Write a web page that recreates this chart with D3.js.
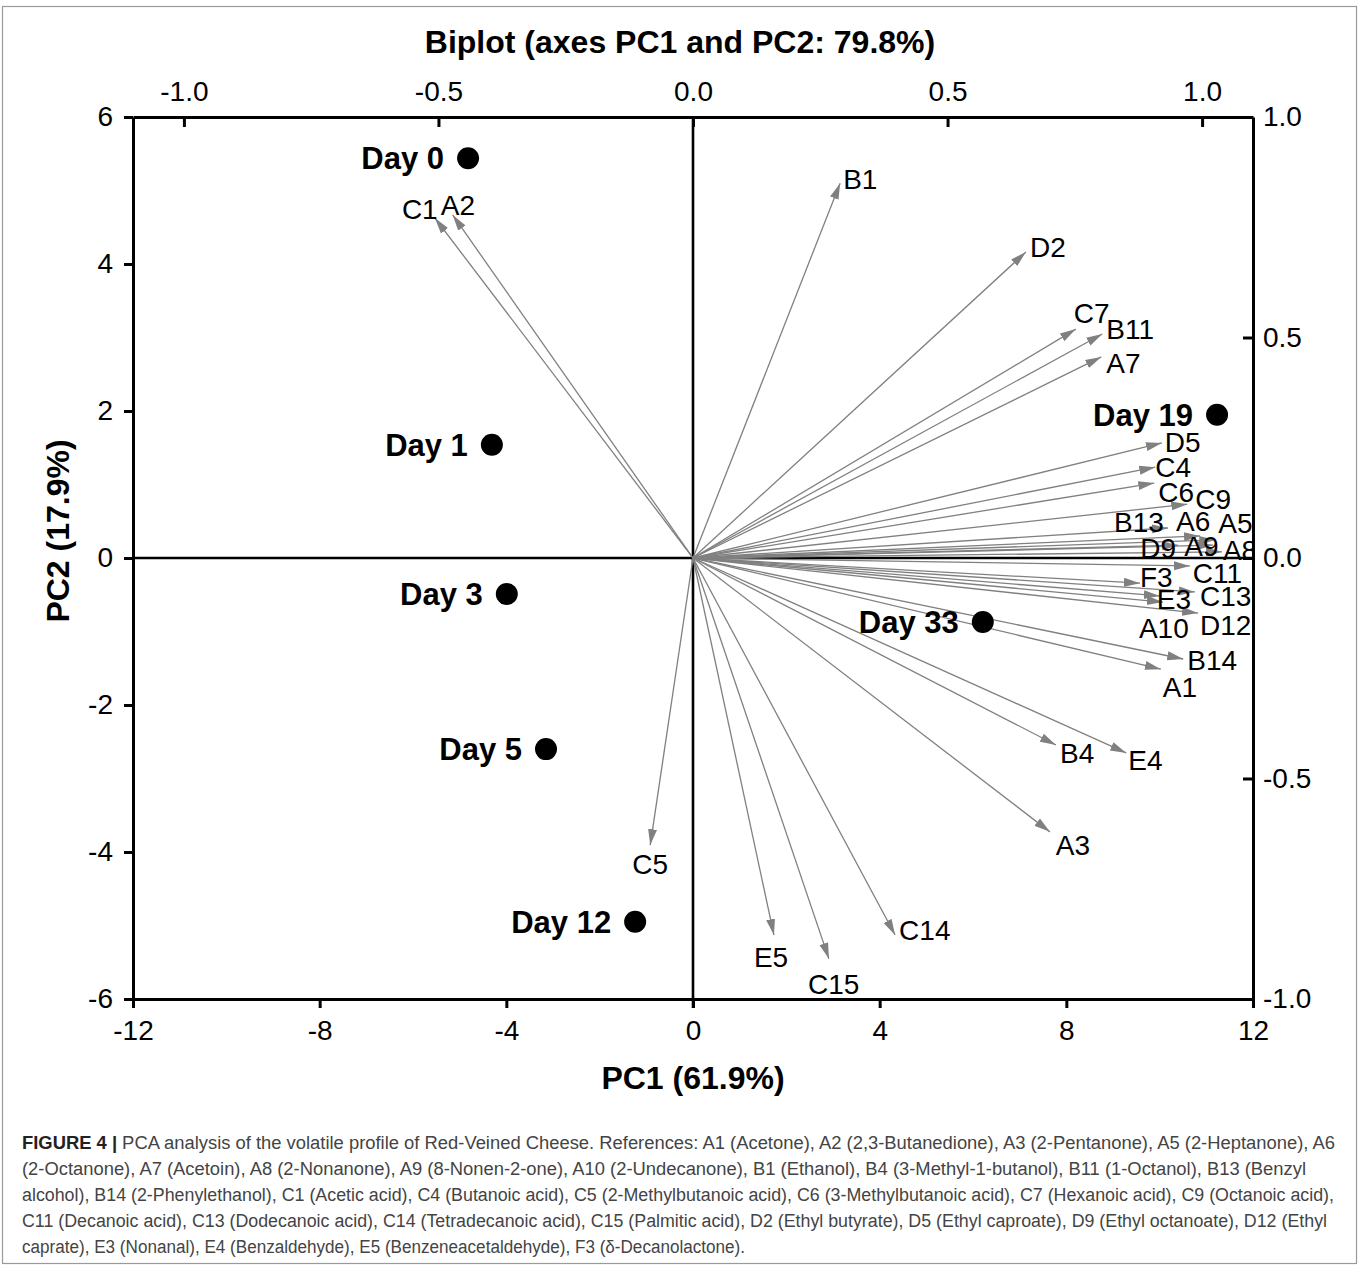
<!DOCTYPE html>
<html>
<head>
<meta charset="utf-8">
<script src="https://cdn.jsdelivr.net/npm/d3@7"></script>
<style>
  body { margin: 0; background: #fff; }
  svg { display: block; }
</style>
</head>
<body>
<svg id="chart" width="1360" height="1266"></svg>
<script>
// observations (sample scores)
const days = ['Day 0', 'Day 1', 'Day 3', 'Day 5', 'Day 12', 'Day 19', 'Day 33']
const dayPC1 = [-4.82, -4.31, -3.99, -3.15, -1.24, 11.23, 6.21]
const dayPC2 = [5.44, 1.54, -0.49, -2.60, -4.95, 1.95, -0.87]

// variables (loadings, on top/right axes)
const variables = ['A1', 'A2', 'A3', 'A5', 'A6', 'A7', 'A8', 'A9', 'A10',
  'B1', 'B4', 'B11', 'B13', 'B14',
  'C1', 'C4', 'C5', 'C6', 'C7', 'C9', 'C11', 'C13', 'C14', 'C15',
  'D2', 'D5', 'D9', 'D12', 'E3', 'E4', 'E5', 'F3']
const loadF1 = [0.919, -0.472, 0.701, 1.026, 0.996, 0.802, 1.039, 1.022, 0.923,
  0.289, 0.713, 0.804, 0.933, 0.963,
  -0.507, 0.908, -0.084, 0.906, 0.752, 0.971, 0.976, 0.986, 0.397, 0.267,
  0.654, 0.921, 0.953, 0.992, 0.917, 0.851, 0.159, 0.878]
const loadF2 = [-0.252, 0.778, -0.621, 0.041, 0.050, 0.456, 0.014, 0.029, -0.100,
  0.850, -0.424, 0.508, 0.068, -0.229,
  0.771, 0.206, -0.651, 0.170, 0.519, 0.122, -0.018, -0.077, -0.855, -0.909,
  0.694, 0.261, 0.029, -0.125, -0.086, -0.442, -0.855, -0.057]

const scoreTicksX = [-12, -8, -4, 0, 4, 8, 12]
const scoreTicksY = [-6, -4, -2, 0, 2, 4, 6]
const loadTicksX = [-1.0, -0.5, 0.0, 0.5, 1.0]
const loadTicksY = [-1.0, -0.5, 0.0, 0.5, 1.0]

const captionLines = [
  [['FIGURE 4 | ', true], ['PCA analysis of the volatile profile of Red-Veined Cheese. References: A1 (Acetone), A2 (2,3-Butanedione), A3 (2-Pentanone), A5 (2-Heptanone), A6', false]],
  [['(2-Octanone), A7 (Acetoin), A8 (2-Nonanone), A9 (8-Nonen-2-one), A10 (2-Undecanone), B1 (Ethanol), B4 (3-Methyl-1-butanol), B11 (1-Octanol), B13 (Benzyl', false]],
  [['alcohol), B14 (2-Phenylethanol), C1 (Acetic acid), C4 (Butanoic acid), C5 (2-Methylbutanoic acid), C6 (3-Methylbutanoic acid), C7 (Hexanoic acid), C9 (Octanoic acid),', false]],
  [['C11 (Decanoic acid), C13 (Dodecanoic acid), C14 (Tetradecanoic acid), C15 (Palmitic acid), D2 (Ethyl butyrate), D5 (Ethyl caproate), D9 (Ethyl octanoate), D12 (Ethyl', false]],
  [['caprate), E3 (Nonanal), E4 (Benzaldehyde), E5 (Benzeneacetaldehyde), F3 (\u03b4-Decanolactone).', false]]
]

// label placement relative to arrow tip: [dx, dy] in px
const labelNudge = {
  A1: [2, 28], A2: [-12, 0], A3: [6, 23], A5: [3, -7], A6: [-24, -5], A7: [5, 16],
  A8: [1, 8], A9: [-29, 11], A10: [-24, 36], B1: [3, 6], B4: [4, 18], B11: [4, 5],
  B13: [-54, 4], B14: [4, 11], C1: [-33, 1], C4: [0, 10], C5: [-18, 29], C6: [4, 19],
  C7: [-2, -6], C9: [8, 5], C11: [3, 17], C13: [5, 14], C14: [4, 5], C15: [-21, 35],
  D2: [4, 5], D5: [3, 9], D9: [-38, 13], D12: [2, 22], E3: [-3, 13], E4: [2, 17],
  E5: [-20, 32], F3: [0, 4]
}

const svg = d3.select('#chart')
const L = 133, R = 1253, T = 117, B = 999
const sans = 'Liberation Sans, Arial, sans-serif'

const x = d3.scaleLinear().domain([-12, 12]).range([L, R])
const y = d3.scaleLinear().domain([-6, 6]).range([B, T])
const xl = d3.scaleLinear().domain([-1.1, 1.1]).range([L, R])
const yl = d3.scaleLinear().domain([-1, 1]).range([B, T])

// outer figure frame
svg.append('rect')
  .attr('x', 2.5).attr('y', 6.5).attr('width', 1354).attr('height', 1257)
  .attr('fill', 'none').attr('stroke', '#9a9a9a').attr('stroke-width', 1.2)

svg.append('defs').append('clipPath').attr('id', 'plotClip')
  .append('rect').attr('x', L).attr('y', T).attr('width', R - L).attr('height', B - T)

svg.select('defs').append('marker')
  .attr('id', 'head')
  .attr('viewBox', '0 -5 16 10')
  .attr('refX', 16).attr('refY', 0)
  .attr('markerWidth', 16).attr('markerHeight', 10)
  .attr('markerUnits', 'userSpaceOnUse')
  .attr('orient', 'auto')
  .append('path').attr('d', 'M0,-4.5L16,0L0,4.5Z').attr('fill', '#808080')

// axes (hyphen minus, like the original)
const fmtInt = d => String(d)
const fmt1 = d => d.toFixed(1)
const axisB = d3.axisBottom(x).tickValues(scoreTicksX).tickSize(9).tickSizeOuter(0).tickPadding(12).tickFormat(fmtInt)
const axisLft = d3.axisLeft(y).tickValues(scoreTicksY).tickSize(9).tickSizeOuter(0).tickPadding(11).tickFormat(fmtInt)
const axisTop = d3.axisTop(xl).tickValues(loadTicksX).tickSize(-10).tickSizeOuter(0).tickPadding(16).tickFormat(fmt1)
const axisRgt = d3.axisRight(yl).tickValues(loadTicksY).tickSize(-10).tickSizeOuter(0).tickPadding(10).tickFormat(fmt1)

function styleAxis (g) {
  g.select('.domain').attr('stroke-width', 3)
  g.selectAll('.tick line').attr('stroke-width', 3)
  g.selectAll('.tick text').attr('font-family', sans).attr('font-size', 28).attr('fill', '#000')
}

svg.append('g').attr('transform', `translate(0,${B})`).call(axisB).call(styleAxis)
svg.append('g').attr('transform', `translate(${L},0)`).call(axisLft).call(styleAxis)
svg.append('g').attr('transform', `translate(0,${T})`).call(axisTop).call(styleAxis)
svg.append('g').attr('transform', `translate(${R},0)`).call(axisRgt).call(styleAxis)

// zero lines
svg.append('line').attr('x1', L).attr('x2', R).attr('y1', y(0)).attr('y2', y(0))
  .attr('stroke', '#000').attr('stroke-width', 2.6)
svg.append('line').attr('x1', x(0)).attr('x2', x(0)).attr('y1', T).attr('y2', B + 9)
  .attr('stroke', '#000').attr('stroke-width', 2.6)

// variable arrows
const vars = variables.map((v, i) => ({ name: v, f1: loadF1[i], f2: loadF2[i] }))
svg.append('g').selectAll('line').data(vars).enter().append('line')
  .attr('x1', xl(0)).attr('y1', yl(0))
  .attr('x2', d => xl(d.f1)).attr('y2', d => yl(d.f2))
  .attr('stroke', '#808080').attr('stroke-width', 1.3)
  .attr('marker-end', 'url(#head)')

svg.append('g').attr('clip-path', 'url(#plotClip)')
  .selectAll('text').data(vars).enter().append('text')
  .attr('x', d => xl(d.f1) + labelNudge[d.name][0])
  .attr('y', d => yl(d.f2) + labelNudge[d.name][1])
  .attr('font-family', sans).attr('font-size', 28).attr('fill', '#000')
  .text(d => d.name)

// observations
const obs = days.map((d, i) => ({ name: d, pc1: dayPC1[i], pc2: dayPC2[i] }))
const og = svg.append('g')
og.selectAll('circle').data(obs).enter().append('circle')
  .attr('cx', d => x(d.pc1)).attr('cy', d => y(d.pc2)).attr('r', 11).attr('fill', '#000')
og.selectAll('text').data(obs).enter().append('text')
  .attr('x', d => x(d.pc1) - 24).attr('y', d => y(d.pc2) + 11)
  .attr('text-anchor', 'end')
  .attr('font-family', sans).attr('font-weight', 'bold').attr('font-size', 31)
  .text(d => d.name)

// titles
svg.append('text').attr('x', 680).attr('y', 53).attr('text-anchor', 'middle')
  .attr('font-family', sans).attr('font-weight', 'bold').attr('font-size', 32)
  .text('Biplot (axes PC1 and PC2: 79.8%)')
svg.append('text').attr('x', 693).attr('y', 1089).attr('text-anchor', 'middle')
  .attr('font-family', sans).attr('font-weight', 'bold').attr('font-size', 32)
  .text('PC1 (61.9%)')
svg.append('text').attr('transform', 'translate(69,531) rotate(-90)').attr('text-anchor', 'middle')
  .attr('font-family', sans).attr('font-weight', 'bold').attr('font-size', 32)
  .text('PC2 (17.9%)')

// caption
const capEnds = [1335, 1306, 1334, 1327, 745]
captionLines.forEach((parts, i) => {
  const t = svg.append('text')
    .attr('x', 22).attr('y', 1149 + i * 26)
    .attr('font-family', 'Liberation Sans Narrow, Liberation Sans, Arial, sans-serif')
    .attr('font-size', 18).attr('fill', '#444')
    .attr('textLength', capEnds[i] - 22).attr('lengthAdjust', 'spacingAndGlyphs')
  parts.forEach(([s, bold]) => {
    t.append('tspan').attr('font-weight', bold ? 'bold' : 'normal')
      .attr('fill', bold ? '#222' : '#444').text(s)
  })
})
</script>
</body>
</html>
